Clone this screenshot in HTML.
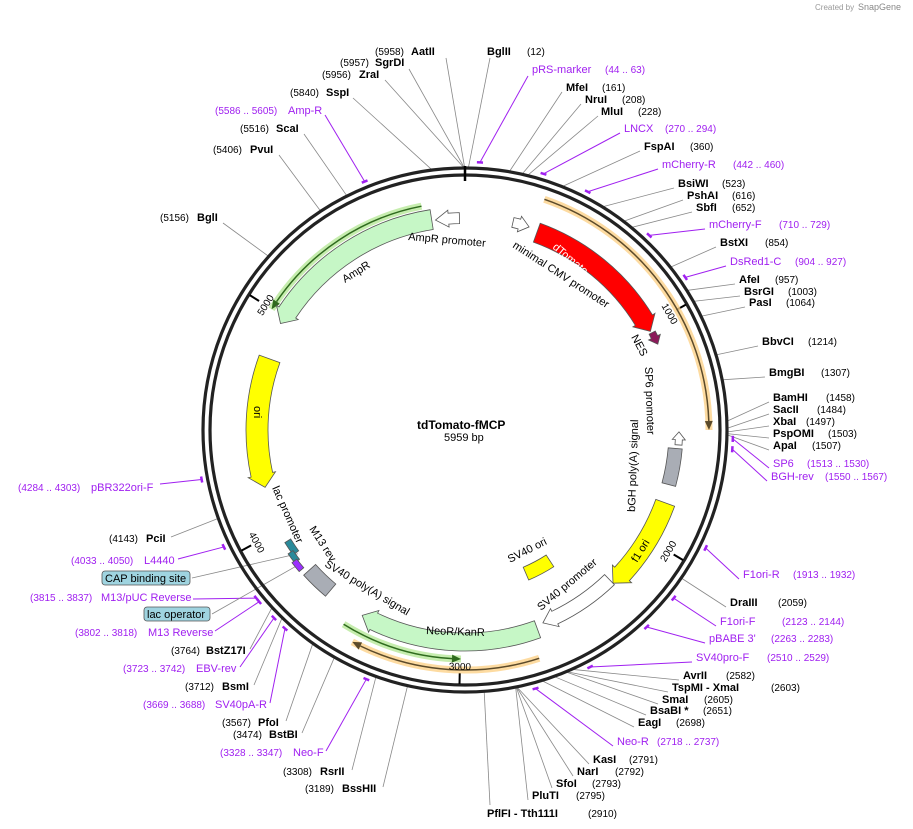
<!DOCTYPE html>
<html><head><meta charset="utf-8"><style>
html,body{margin:0;padding:0;background:#fff;}
svg{display:block;font-family:"Liberation Sans",Arial,sans-serif;}
.n{font-size:11px;font-weight:bold;fill:#000}
.d{font-size:10px;fill:#000}
.p{font-size:11px;fill:#a020f0}
.pd{font-size:10px;fill:#a020f0}
.f{font-size:11px;fill:#000}
</style></head><body>
<svg id="s" width="913" height="829" viewBox="0 0 913 829" xmlns="http://www.w3.org/2000/svg">
<g id="lines"></g>
<g id="feat"></g>
<text x="815" y="10" font-size="8" fill="#999">Created by</text><text x="858" y="10" font-size="9" fill="#888">SnapGene</text>

<text x="417" y="429" font-size="12" font-weight="bold">tdTomato-fMCP</text>
<text x="444" y="441" font-size="11">5959 bp</text>

<text x="375" y="55" class="d">(5958)</text><text x="411" y="55" class="n">AatII</text>
<text x="340" y="66" class="d">(5957)</text><text x="375" y="66" class="n">SgrDI</text>
<text x="322" y="78" class="d">(5956)</text><text x="359" y="78" class="n">ZraI</text>
<text x="290" y="96" class="d">(5840)</text><text x="326" y="96" class="n">SspI</text>
<text x="215" y="114" class="pd">(5586 .. 5605)</text><text x="288" y="114" class="p">Amp-R</text>
<text x="240" y="132" class="d">(5516)</text><text x="276" y="132" class="n">ScaI</text>
<text x="213" y="153" class="d">(5406)</text><text x="250" y="153" class="n">PvuI</text>
<text x="160" y="221" class="d">(5156)</text><text x="197" y="221" class="n">BglI</text>
<text x="487" y="55" class="n">BglII</text><text x="527" y="55" class="d">(12)</text>
<text x="532" y="73" class="p">pRS-marker</text><text x="605" y="73" class="pd">(44 .. 63)</text>
<text x="566" y="91" class="n">MfeI</text><text x="602" y="91" class="d">(161)</text>
<text x="585" y="103" class="n">NruI</text><text x="622" y="103" class="d">(208)</text>
<text x="601" y="115" class="n">MluI</text><text x="638" y="115" class="d">(228)</text>
<text x="624" y="132" class="p">LNCX</text><text x="665" y="132" class="pd">(270 .. 294)</text>
<text x="644" y="150" class="n">FspAI</text><text x="690" y="150" class="d">(360)</text>
<text x="662" y="168" class="p">mCherry-R</text><text x="733" y="168" class="pd">(442 .. 460)</text>
<text x="678" y="187" class="n">BsiWI</text><text x="722" y="187" class="d">(523)</text>
<text x="687" y="199" class="n">PshAI</text><text x="732" y="199" class="d">(616)</text>
<text x="696" y="211" class="n">SbfI</text><text x="732" y="211" class="d">(652)</text>
<text x="709" y="228" class="p">mCherry-F</text><text x="779" y="228" class="pd">(710 .. 729)</text>
<text x="720" y="246" class="n">BstXI</text><text x="765" y="246" class="d">(854)</text>
<text x="730" y="265" class="p">DsRed1-C</text><text x="795" y="265" class="pd">(904 .. 927)</text>
<text x="739" y="283" class="n">AfeI</text><text x="775" y="283" class="d">(957)</text>
<text x="744" y="295" class="n">BsrGI</text><text x="788" y="295" class="d">(1003)</text>
<text x="749" y="306" class="n">PasI</text><text x="786" y="306" class="d">(1064)</text>
<text x="762" y="345" class="n">BbvCI</text><text x="808" y="345" class="d">(1214)</text>
<text x="769" y="376" class="n">BmgBI</text><text x="821" y="376" class="d">(1307)</text>
<text x="773" y="401" class="n">BamHI</text><text x="826" y="401" class="d">(1458)</text>
<text x="773" y="413" class="n">SacII</text><text x="817" y="413" class="d">(1484)</text>
<text x="773" y="425" class="n">XbaI</text><text x="806" y="425" class="d">(1497)</text>
<text x="773" y="437" class="n">PspOMI</text><text x="828" y="437" class="d">(1503)</text>
<text x="773" y="449" class="n">ApaI</text><text x="812" y="449" class="d">(1507)</text>
<text x="773" y="467" class="p">SP6</text><text x="807" y="467" class="pd">(1513 .. 1530)</text>
<text x="771" y="480" class="p">BGH-rev</text><text x="825" y="480" class="pd">(1550 .. 1567)</text>
<text x="743" y="578" class="p">F1ori-R</text><text x="793" y="578" class="pd">(1913 .. 1932)</text>
<text x="730" y="606" class="n">DraIII</text><text x="778" y="606" class="d">(2059)</text>
<text x="720" y="625" class="p">F1ori-F</text><text x="782" y="625" class="pd">(2123 .. 2144)</text>
<text x="709" y="642" class="p">pBABE 3'</text><text x="771" y="642" class="pd">(2263 .. 2283)</text>
<text x="696" y="661" class="p">SV40pro-F</text><text x="767" y="661" class="pd">(2510 .. 2529)</text>
<text x="683" y="679" class="n">AvrII</text><text x="726" y="679" class="d">(2582)</text>
<text x="672" y="691" class="n">TspMI  - XmaI</text><text x="771" y="691" class="d">(2603)</text>
<text x="662" y="703" class="n">SmaI</text><text x="704" y="703" class="d">(2605)</text>
<text x="650" y="714" class="n">BsaBI *</text><text x="703" y="714" class="d">(2651)</text>
<text x="638" y="726" class="n">EagI</text><text x="676" y="726" class="d">(2698)</text>
<text x="617" y="745" class="p">Neo-R</text><text x="657" y="745" class="pd">(2718 .. 2737)</text>
<text x="593" y="763" class="n">KasI</text><text x="629" y="763" class="d">(2791)</text>
<text x="577" y="775" class="n">NarI</text><text x="615" y="775" class="d">(2792)</text>
<text x="556" y="787" class="n">SfoI</text><text x="592" y="787" class="d">(2793)</text>
<text x="532" y="799" class="n">PluTI</text><text x="576" y="799" class="d">(2795)</text>
<text x="487" y="817" class="n">PflFI  - Tth111I</text><text x="588" y="817" class="d">(2910)</text>
<text x="18" y="491" class="pd">(4284 .. 4303)</text><text x="91" y="491" class="p">pBR322ori-F</text>
<text x="109" y="542" class="d">(4143)</text><text x="146" y="542" class="n">PciI</text>
<text x="71" y="564" class="pd">(4033 .. 4050)</text><text x="144" y="564" class="p">L4440</text>
<rect x="102" y="571" width="88" height="14" rx="3" fill="#9fd4e0" stroke="#555" stroke-width="0.8"/><text x="105" y="582" class="f">CAP binding site</text>
<text x="30" y="601" class="pd">(3815 .. 3837)</text><text x="101" y="601" class="p">M13/pUC Reverse</text>
<rect x="144" y="607" width="66" height="14" rx="3" fill="#9fd4e0" stroke="#555" stroke-width="0.8"/><text x="147" y="618" class="f">lac operator</text>
<text x="75" y="636" class="pd">(3802 .. 3818)</text><text x="148" y="636" class="p">M13 Reverse</text>
<text x="171" y="654" class="d">(3764)</text><text x="206" y="654" class="n">BstZ17I</text>
<text x="123" y="672" class="pd">(3723 .. 3742)</text><text x="196" y="672" class="p">EBV-rev</text>
<text x="185" y="690" class="d">(3712)</text><text x="222" y="690" class="n">BsmI</text>
<text x="143" y="708" class="pd">(3669 .. 3688)</text><text x="215" y="708" class="p">SV40pA-R</text>
<text x="222" y="726" class="d">(3567)</text><text x="258" y="726" class="n">PfoI</text>
<text x="233" y="738" class="d">(3474)</text><text x="269" y="738" class="n">BstBI</text>
<text x="220" y="756" class="pd">(3328 .. 3347)</text><text x="293" y="756" class="p">Neo-F</text>
<text x="283" y="775" class="d">(3308)</text><text x="320" y="775" class="n">RsrII</text>
<text x="305" y="792" class="d">(3189)</text><text x="342" y="792" class="n">BssHII</text>

<text class="f" transform="translate(408,240) rotate(5)">AmpR promoter</text>
<text class="f" transform="translate(345,283) rotate(-32)">AmpR</text>
<text class="f" transform="translate(512,247) rotate(33)">minimal CMV promoter</text>
<text class="f" transform="translate(631,337) rotate(62)">NES</text>
<text class="f" transform="translate(645,367) rotate(88)">SP6 promoter</text>
<text class="f" transform="translate(635,512) rotate(-88)">bGH poly(A) signal</text>
<text class="f" transform="translate(637,563) rotate(-58)">f1 ori</text>
<text class="f" transform="translate(541,611) rotate(-40)">SV40 promoter</text>
<text class="f" transform="translate(510,563) rotate(-27)">SV40 ori</text>
<text class="f" transform="translate(426,634) rotate(2)">NeoR/KanR</text>
<text class="f" transform="translate(324,566) rotate(31)">SV40 poly(A) signal</text>
<text class="f" transform="translate(309,529) rotate(57)">M13 rev</text>
<text class="f" transform="translate(272,488) rotate(66)">lac promoter</text>
<text class="f" transform="translate(254,406) rotate(90)">ori</text>
<g id="ticks"></g>
<text class="f" style="fill:#fff" transform="translate(552,248) rotate(40)">dTomato</text>
</svg>
<script>
const cx=465,cy=430,NS="http://www.w3.org/2000/svg";
function P(a,r){a=a*Math.PI/180;return [cx+r*Math.sin(a),cy-r*Math.cos(a)];}
function A(bp){return bp/5959*360;}
function el(g,tag,at){const e=document.createElementNS(NS,tag);for(const k in at)e.setAttribute(k,at[k]);document.getElementById(g).appendChild(e);return e;}
function f(p){return p[0].toFixed(1)+","+p[1].toFixed(1);}
function arc(r,a1,a2){const sw=a2>a1?1:0;return "A"+r+","+r+" 0 0 "+sw+" "+f(P(a2,r));}
function arrow(r,w,a1,a2,fill,head){
  const dir=a2>a1?1:-1;let hd=head===false?0:Math.min(Math.abs(a2-a1)*0.6,13/r*57.3);
  const b=a2-dir*hd,o=r+w/2,i=r-w/2;let d="M"+f(P(a1,o))+arc(o,a1,b);
  if(hd>0){d+="L"+f(P(b,o+3))+"L"+f(P(a2,r))+"L"+f(P(b,i-3))+"L"+f(P(b,i));}
  else{d+="L"+f(P(b,i));}
  d+=arc(i,b,a1)+"Z";
  el("feat","path",{d:d,fill:fill,stroke:"#555","stroke-width":0.8});
}
function line(r,a1,a2,col,halo){
  const dir=a2>a1?1:-1,hd=9/r*57.3,b=a2-dir*hd;
  el("feat","path",{d:"M"+f(P(a1,r))+arc(r,a1,a2),fill:"none",stroke:halo,"stroke-width":7,"stroke-opacity":0.8});
  el("feat","path",{d:"M"+f(P(a1,r))+arc(r,a1,b),fill:"none",stroke:col,"stroke-width":1.5});
  el("feat","path",{d:"M"+f(P(b,r+4))+"L"+f(P(a2,r))+"L"+f(P(b,r-4))+"Z",fill:col});
}
el("feat","circle",{cx:cx,cy:cy,r:262,fill:"none",stroke:"#222","stroke-width":3.2});
el("feat","circle",{cx:cx,cy:cy,r:255,fill:"none",stroke:"#222","stroke-width":3.2});
el("feat","line",{x1:465,y1:166,x2:465,y2:181,stroke:"#000","stroke-width":2.5});
[1000,2000,3000,4000,5000].forEach(b=>{const a=A(b),p1=P(a,254),p2=P(a,243);
 el("feat","line",{x1:p1[0],y1:p1[1],x2:p2[0],y2:p2[1],stroke:"#000","stroke-width":2});
 const p=P(a,236);let rot=(a>90&&a<270)?a-180:(a>270?a-360:a);
 const tx=el("ticks","text",{"font-size":10,"text-anchor":"middle",transform:"translate("+p[0].toFixed(1)+","+p[1].toFixed(1)+") rotate("+rot.toFixed(1)+")",dy:4});tx.textContent=String(b);});
line(244,19,90,"#5b4a2a","#fcd28a");
line(228,-11,-58,"#2f6b1e","#b8e89a");
line(229,212,181,"#2f6b1e","#b8e89a");
line(240,162,208,"#5b4a2a","#fcd28a");
arrow(210,20,20,62,"#ff0000");
arrow(211,7,62.5,66,"#8b1a5a");
arrow(212,11,-1.5,-8,"#fff");
arrow(213,20,-9,-60,"#c6f7c6");
arrow(213,10,13,17.5,"#fff");
arrow(208,22,-70,-106,"#ffff00");
arrow(211,14,95,105,"#a9adb5",false);
arrow(214,7,94,90.5,"#fff");
arrow(213,20,110,136,"#ffff00");
arrow(208,14,136,158,"#fff");
arrow(212,18,160,209,"#c6f7c6");
arrow(156,14,147,157,"#ffff00",false);
arrow(209,16,220,228,"#a9adb5",false);
arrow(209,7,234,238,"#2a8a9a",false);
arrow(213,6,232,235,"#2a8a9a",false);
arrow(215,6,229.5,232.5,"#9b30ff",false);
const L=[[5958,446,58],[5957,409,69],[5956,385,80],[5840,353,98],[5595,325,115,1],[5516,304,134],[5406,279,155],[5156,223,223],
[12,490,58],[53,528,76,1],[161,562,92],[208,581,104],[228,598,116],[282,620,133,1],[360,640,151],[451,658,169,1],[523,674,188],[616,683,200],[652,692,212],[719,705,229,1],[854,716,247],[915,726,266,1],[957,735,284],[1003,740,296],[1064,745,307],[1214,758,346],[1307,765,377],[1458,769,402],[1484,769,414],[1497,769,426],[1503,769,438],[1507,769,450],[1521,769,468,1],[1558,767,481,1],
[1922,739,579,1],[2059,726,607],[2133,716,626,1],[2273,705,643,1],[2519,692,662,1],[2582,679,680],[2603,668,692],[2605,658,704],[2651,646,715],[2698,634,727],[2727,613,746,1],[2791,589,764],[2792,573,776],[2793,552,788],[2795,528,800],[2910,490,805],
[4293,160,484,1],[4143,171,537],[4041,178,559,1],[3826,193,599,1],[3810,215,631,1],[3764,250,649],[3732,240,667,1],[3712,254,685],[3678,270,703,1],[3567,286,721],[3474,302,733],[3337,326,751,1],[3308,352,770],[3189,383,787]];
L.forEach(l=>{const a=A(l[0]),pu=l[3],p=P(a,pu?268:262);const col=pu?"#a020f0":"#888";
 el("lines","line",{x1:p[0],y1:p[1],x2:l[1],y2:l[2],stroke:col,"stroke-width":pu?1:0.8});
 if(pu){const w=18/5959*360*0.6;el("lines","path",{d:"M"+f(P(a-w,268))+arc(268,a-w,a+w),stroke:"#a020f0","stroke-width":2.5,fill:"none"});}
});
[[233.5,192,578,208],[231,212,614,214]].forEach(q=>{const p=P(q[0],q[3]);el("lines","line",{x1:p[0],y1:p[1],x2:q[1],y2:q[2],stroke:"#888","stroke-width":0.8});});
</script>
</body></html>
